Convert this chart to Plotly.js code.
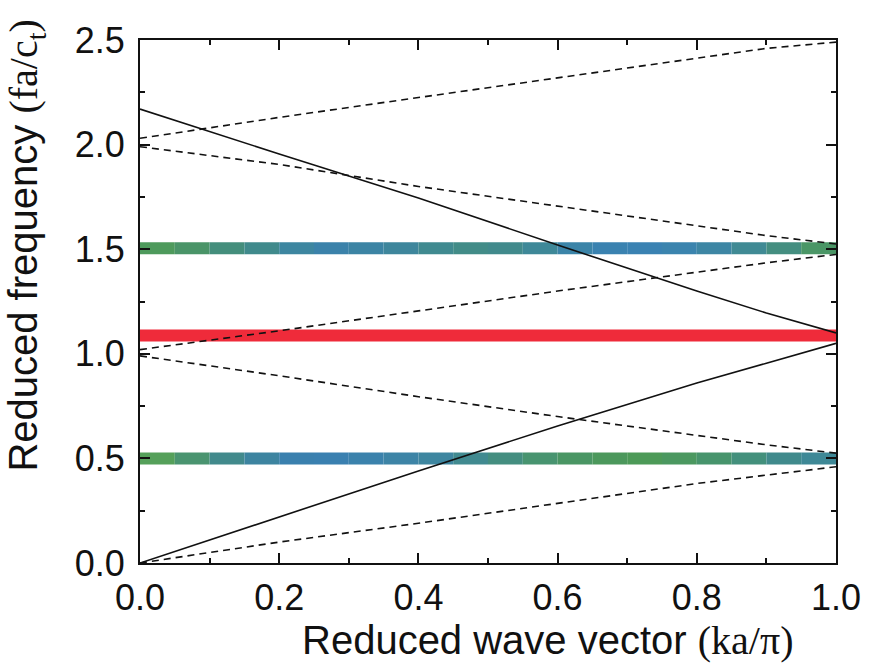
<!DOCTYPE html>
<html>
<head>
<meta charset="utf-8">
<script src="https://cdn.plot.ly/plotly-3.0.1.min.js"></script>
<style>html,body{margin:0;padding:0;background:#fff;}</style>
</head>
<body>
<div id="chart" style="width:870px;height:663px;"></div>
<script>
// Reduced wave vector samples
var k = [0, 0.2, 0.4, 0.6, 0.8, 0.9, 1.0];
// Solid branches
var solidLow  = [0, 0.22, 0.44, 0.655, 0.86, 0.955, 1.05];
var solidHigh = [2.17, 1.955, 1.745, 1.52, 1.30, 1.195, 1.10];
// Dashed branches
var dash1 = [2.03, 2.13, 2.225, 2.32, 2.415, 2.46, 2.49];
var dash2 = [1.99, 1.905, 1.80, 1.705, 1.61, 1.565, 1.525];
var dash3 = [1.02, 1.11, 1.205, 1.30, 1.39, 1.435, 1.475];
var dash4 = [0.99, 0.895, 0.795, 0.70, 0.61, 0.565, 0.525];
var dash5 = [0, 0.10, 0.19, 0.285, 0.38, 0.42, 0.46];
// Flat bands
var bandK = [0, 0.05, 0.1, 0.15, 0.2, 0.25, 0.3, 0.35, 0.4, 0.45, 0.5, 0.55, 0.6, 0.65, 0.7, 0.75, 0.8, 0.85, 0.9, 0.95, 1.0];
var bandLowLevel = 0.50;
var bandMidLevel = 1.088;
var bandHighLevel = 1.505;

// styles
var bandLowColors  = ['#55a05a','#4a9470','#428a8c','#3d84a0','#3a80ae','#3a80b0','#3b82ac','#3d84a6','#3e86a0','#418a90',
                      '#448e80','#489470','#4a9664','#4c985c','#4d9a58','#4b9860','#47946c','#43907c','#408a8c','#3e8896'];
var bandHighColors = ['#4e9a5c','#4a9468','#448e7c','#408a8c','#3d86a0','#3b82aa','#3c84a4','#3e869c','#408a90','#428c88',
                      '#418a8c','#3e8898','#3b84a8','#3a82b0','#3a82b2','#3b84ae','#3d86a4','#408a94','#448e80','#4a9666'];
var redColor = '#ef2b3a';

var traces = [];
function bandSegments(level, colors) {
  for (var i = 0; i < bandK.length - 1; i++) {
    traces.push({x: [bandK[i], bandK[i+1]], y: [level, level], mode: 'lines',
      line: {color: colors[i], width: 12}, hoverinfo: 'skip', showlegend: false});
  }
}
bandSegments(bandLowLevel, bandLowColors);
bandSegments(bandHighLevel, bandHighColors);
traces.push({x: [bandK[0], bandK[bandK.length-1]], y: [bandMidLevel, bandMidLevel], mode: 'lines',
  line: {color: redColor, width: 12}, showlegend: false});

[solidLow, solidHigh].forEach(function (s) {
  traces.push({x: k, y: s, mode: 'lines', line: {color: '#111', width: 1.6}, showlegend: false});
});
[dash1, dash2, dash3, dash4, dash5].forEach(function (s) {
  traces.push({x: k, y: s, mode: 'lines', line: {color: '#111', width: 1.6, dash: '7px,5px'}, showlegend: false});
});

var tickFont = {family: 'Liberation Sans, Arial, sans-serif', size: 36, color: '#111'};
var layout = {
  width: 870, height: 663,
  margin: {l: 140, r: 34, t: 40, b: 100},
  paper_bgcolor: '#fff', plot_bgcolor: '#fff',
  showlegend: false,
  xaxis: {
    range: [0, 1], tickvals: [0, 0.2, 0.4, 0.6, 0.8, 1.0], ticktext: ['0.0','0.2','0.4','0.6','0.8','1.0'],
    ticks: 'inside', ticklen: 10, tickwidth: 2, tickcolor: '#111',
    minor: {dtick: 0.1, ticks: 'inside', ticklen: 5, tickwidth: 2, tickcolor: '#111'},
    showline: true, linecolor: '#111', linewidth: 2, mirror: 'ticks',
    showgrid: false, zeroline: false, tickfont: tickFont, ticklabelstandoff: 2
  },
  yaxis: {
    range: [0, 2.5], tickvals: [0, 0.5, 1.0, 1.5, 2.0, 2.5], ticktext: ['0.0','0.5','1.0','1.5','2.0','2.5'],
    ticks: 'inside', ticklen: 10, tickwidth: 2, tickcolor: '#111',
    minor: {dtick: 0.25, ticks: 'inside', ticklen: 5, tickwidth: 2, tickcolor: '#111'},
    showline: true, linecolor: '#111', linewidth: 2, mirror: 'ticks',
    showgrid: false, zeroline: false, tickfont: tickFont, ticklabelstandoff: 6
  },
  annotations: [
    {text: 'Reduced wave vector <span style="font-family:\'Liberation Serif\',serif">(ka/π)</span>',
     xref: 'paper', yref: 'paper', x: 0.586, y: -0.149, xanchor: 'center', yanchor: 'middle',
     showarrow: false, font: {family: 'Liberation Sans, Arial, sans-serif', size: 40, color: '#111'}},
    {text: 'Reduced frequency <span style="font-family:\'Liberation Serif\',serif">(fa/c<sub>t</sub>)</span>',
     xref: 'paper', yref: 'paper', x: -0.163, y: 0.606, xanchor: 'center', yanchor: 'middle', textangle: -90,
     showarrow: false, font: {family: 'Liberation Sans, Arial, sans-serif', size: 40, color: '#111'}}
  ]
};
Plotly.newPlot('chart', traces, layout, {staticPlot: true});
</script>
</body>
</html>
